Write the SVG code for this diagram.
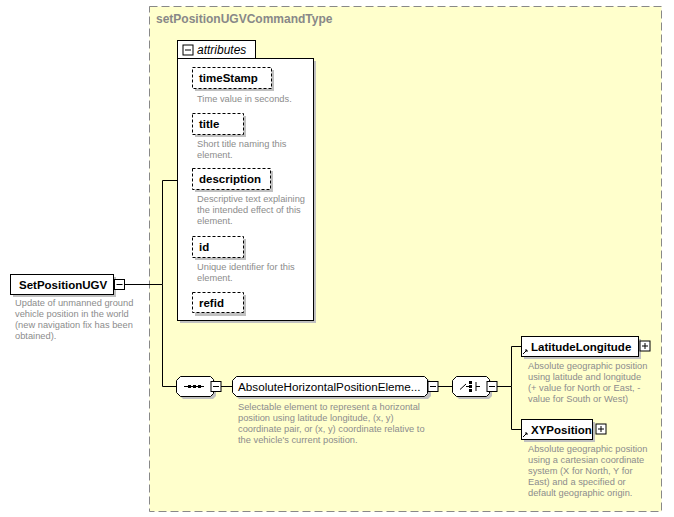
<svg xmlns="http://www.w3.org/2000/svg" width="674" height="517" viewBox="0 0 674 517">
<defs>
<style>
.bx{fill:#fff;stroke:#000;stroke-width:1}
.sh{fill:#c0c0c0}
.dash{fill:#fff;stroke:#000;stroke-dasharray:3,2}
.nm{font-family:"Liberation Sans",Arial,sans-serif;font-size:11.5px;font-weight:bold;fill:#000}
.nm2{font-family:"Liberation Sans",Arial,sans-serif;font-size:11.7px;fill:#000}
.ds{font-family:"Liberation Sans",Arial,sans-serif;font-size:9.3px;fill:#8c8c8c}
.ln{stroke:#000;stroke-width:1;fill:none}
</style>
<g id="pm"><rect x="-5" y="-5" width="10" height="10" fill="#fff" stroke="#000"/><line x1="-3" y1="0" x2="3" y2="0" stroke="#000"/></g>
<g id="pp"><rect x="-5" y="-5" width="10" height="10" fill="#fff" stroke="#000"/><line x1="-3" y1="0" x2="3" y2="0" stroke="#000"/><line x1="0" y1="-3" x2="0" y2="3" stroke="#000"/></g>
</defs>
<rect width="674" height="517" fill="#fff"/>
<g id="type">
<rect x="149.5" y="6.5" width="512" height="505" fill="#ffffcc" stroke="#888" stroke-dasharray="8,4"/>
<text x="156" y="23" font-family="Liberation Sans,Arial,sans-serif" font-size="12" font-weight="bold" fill="#888">setPositionUGVCommandType</text>
</g>
<g id="connectors">
<path class="ln" d="M124.5 284.5H162.5V180.5H177M162.5 284.5V386.5H176M221 386.5H232M438 386.5H452M497 386.5H511.5V346.5H521M511.5 386.5V429.5H521"/>
</g>
<g id="attributes">
<rect x="180" y="61" width="136" height="262" class="sh"/>
<rect x="177.5" y="58.5" width="136" height="262" class="bx"/>
<rect x="177.5" y="40.5" width="78" height="18" class="bx"/>
<use href="#pm" x="188" y="50"/>
<text x="197" y="54" font-family="Liberation Sans,Arial,sans-serif" font-size="12" font-style="italic">attributes</text>
<g id="timeStamp"><rect x="195" y="70" width="79" height="21" class="sh"/><rect x="192.5" y="67.5" width="79" height="21" class="dash"/><text x="199" y="82" class="nm">timeStamp</text><text x="197" y="102" class="ds">Time value in seconds.</text></g>
<g id="title"><rect x="195" y="116" width="51" height="21" class="sh"/><rect x="192.5" y="113.5" width="51" height="21" class="dash"/><text x="199" y="128" class="nm">title</text><text x="197" y="147" class="ds">Short title naming this</text><text x="197" y="158" class="ds">element.</text></g>
<g id="description"><rect x="195" y="171" width="78" height="21" class="sh"/><rect x="192.5" y="168.5" width="78" height="21" class="dash"/><text x="199" y="183" class="nm">description</text><text x="197" y="202" class="ds">Descriptive text explaining</text><text x="197" y="213" class="ds">the intended effect of this</text><text x="197" y="224" class="ds">element.</text></g>
<g id="id"><rect x="195" y="239" width="51" height="21" class="sh"/><rect x="192.5" y="236.5" width="51" height="21" class="dash"/><text x="199" y="251" class="nm">id</text><text x="197" y="270" class="ds">Unique identifier for this</text><text x="197" y="281" class="ds">element.</text></g>
<g id="refid"><rect x="195" y="295" width="51" height="21" class="sh"/><rect x="192.5" y="292.5" width="51" height="20" class="dash"/><text x="199" y="307" class="nm">refid</text></g>
</g>
<g id="SetPositionUGV">
<rect x="13" y="277" width="103" height="20" class="sh"/>
<rect x="10.5" y="274.5" width="103" height="20" class="bx"/>
<text x="19" y="289" class="nm">SetPositionUGV</text>
<use href="#pm" x="119.5" y="284.5"/>
<text x="15" y="306" class="ds">Update of unmanned ground</text>
<text x="15" y="317" class="ds">vehicle position in the world</text>
<text x="15" y="328" class="ds">(new navigation fix has been</text>
<text x="15" y="339" class="ds">obtained).</text>
</g>
<g id="sequence">
<path d="M183 379H213L216 382V396L213 399H183L179 395V383Z" class="sh"/>
<path d="M180.5 376.5H210.5L213.5 379.5V393.5L210.5 396.5H180.5L176.5 392.5V380.5Z" class="bx"/>
<line x1="184" y1="386.5" x2="204" y2="386.5" stroke="#000"/>
<rect x="188" y="385" width="3" height="3"/><rect x="193" y="385" width="3" height="3"/><rect x="198" y="385" width="3" height="3"/>
<use href="#pm" x="216" y="386.5"/>
</g>
<g id="AbsoluteHorizontalPositionElement">
<path d="M239 379H428L431 382V396L428 399H239L235 395V383Z" class="sh"/>
<path d="M236.5 376.5H424.5L427.5 379.5V393.5L424.5 396.5H236.5L232.5 392.5V380.5Z" class="bx"/>
<text x="238" y="391" class="nm2">AbsoluteHorizontalPositionEleme...</text>
<use href="#pm" x="433" y="386.5"/>
<text x="238" y="410" class="ds">Selectable element to represent a horizontal</text>
<text x="238" y="421" class="ds">position using latitude longitude, (x, y)</text>
<text x="238" y="432" class="ds">coordinate pair, or (x, y) coordinate relative to</text>
<text x="238" y="443" class="ds">the vehicle's current position.</text>
</g>
<g id="choice">
<path d="M459 379H489L492 382V396L489 399H459L455 395V383Z" class="sh"/>
<path d="M456.5 376.5H486.5L489.5 379.5V393.5L486.5 396.5H456.5L452.5 392.5V380.5Z" class="bx"/>
<path d="M460 389.5L466 384M466 386.5H469M476 386.5H480M476 382V391" class="ln"/>
<rect x="469" y="381" width="3" height="3"/><rect x="469" y="385" width="3" height="3"/><rect x="469" y="389" width="3" height="3"/>
<use href="#pm" x="492" y="386.5"/>
</g>
<g id="LatitudeLongitude">
<rect x="524" y="339" width="117" height="20" class="sh"/>
<rect x="521.5" y="336.5" width="117" height="20" class="bx"/>
<path d="M523 354L527 350M525 350H527V352" stroke="#000" fill="none"/>
<text x="531" y="351" class="nm">LatitudeLongitude</text>
<use href="#pp" x="645" y="346"/>
<text x="528" y="369" class="ds">Absolute geographic position</text>
<text x="528" y="380" class="ds">using latitude and longitude</text>
<text x="528" y="391" class="ds">(+ value for North or East, -</text>
<text x="528" y="402" class="ds">value for South or West)</text>
</g>
<g id="XYPosition">
<rect x="524" y="422" width="71" height="20" class="sh"/>
<rect x="521.5" y="419.5" width="71" height="20" class="bx"/>
<path d="M523 437L527 433M525 433H527V435" stroke="#000" fill="none"/>
<text x="531" y="434" class="nm">XYPosition</text>
<use href="#pp" x="601" y="429"/>
<text x="528" y="452" class="ds">Absolute geographic position</text>
<text x="528" y="463" class="ds">using a cartesian coordinate</text>
<text x="528" y="474" class="ds">system (X for North, Y for</text>
<text x="528" y="485" class="ds">East) and a specified or</text>
<text x="528" y="496" class="ds">default geographic origin.</text>
</g>
</svg>
